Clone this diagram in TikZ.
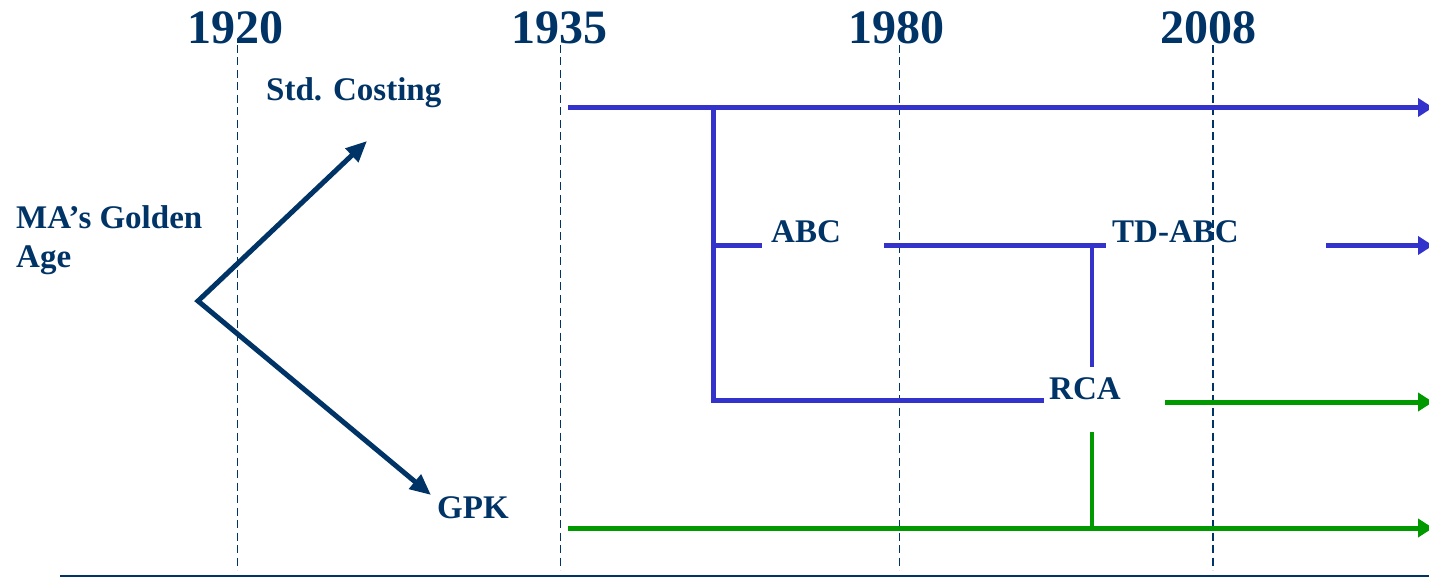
\documentclass[tikz,border=0pt]{standalone}
\usepackage{fontspec}
\setmainfont{Liberation Serif}
\usetikzlibrary{arrows.meta}
\definecolor{navy}{RGB}{0,51,102}
\definecolor{lineblue}{RGB}{51,51,204}
\definecolor{linegreen}{RGB}{0,153,0}
\begin{document}
\begin{tikzpicture}[x=1pt,y=-1pt,
  year/.style={text=navy,font=\bfseries\fontsize{48}{48}\selectfont,inner sep=0pt,anchor=base},
  lbl/.style={text=navy,font=\bfseries\fontsize{33}{39}\selectfont,inner sep=0pt,anchor=base west},
  guide/.style={draw=navy,line width=1.8pt,dash pattern=on 8pt off 4.5pt},
  navyarrow/.style={draw=navy,line width=5pt,line join=miter,{Triangle[length=21pt,width=18pt]}-{Triangle[length=21pt,width=18pt]}},
  blueline/.style={draw=lineblue,line width=5pt},
  greenline/.style={draw=linegreen,line width=5pt},
  endtip/.style={-{Triangle[length=15pt,width=18pt]}}
]
\useasboundingbox (0,0) rectangle (1429,577);

% year labels
\node[year] (y1920) at (235.5,44) {1920};
\node[year] (y1935) at (559,44) {1935};
\node[year] (y1980) at (896,44) {1980};
\node[year] (y2008) at (1208.5,44) {2008};

% dashed guides
\coordinate (g1920) at (237.5,570);
\coordinate (g1935) at (560.5,570);
\coordinate (g1980) at (899.5,570);
\coordinate (g2008) at (1213,570);
\draw[guide] (237.5,45) -- (g1920);
\draw[guide] (560.5,45) -- (g1935);
\draw[guide] (899.5,45) -- (g1980);
\draw[guide] (1213,45) -- (g2008);

% bottom rule
\coordinate (ruleL) at (60,575.8);
\coordinate (ruleR) at (1429,575.8);
\draw[navy,line width=2.5pt] (ruleL) -- (ruleR);

% left labels
\node[text=navy,font=\bfseries\fontsize{33}{39}\selectfont,inner sep=0pt,align=left,anchor=north west] (golden) at (16,205.7) {MA’s Golden\\Age};
\node[lbl] (std) at (266,101) {Std. Costing};
\node[lbl] (gpk) at (437,518) {GPK};

% golden-age arrows
\coordinate (stdtip) at (367,141);
\coordinate (vtx) at (198,301);
\coordinate (gpktip) at (431,495);
\draw[navyarrow] (stdtip) -- (vtx) -- (gpktip);

% right labels
\node[lbl] (abc) at (771,243) {ABC};
\node[lbl] (tdabc) at (1112,243) {TD-ABC};
\node[lbl] (rca) at (1049,399) {RCA};

% blue structure
\coordinate (topL) at (568,107.5);
\coordinate (topR) at (1433,107.5);
\coordinate (j1) at (713,107.5);
\coordinate (j2) at (713,245.5);
\coordinate (j3) at (713,400);
\coordinate (rcaL) at (1044,400);
\coordinate (abcS) at (762,245.5);
\coordinate (abcR) at (884,245.5);
\coordinate (tdL) at (1106,245.5);
\coordinate (k1) at (1092,245.5);
\coordinate (k2) at (1092,367);
\coordinate (tdR) at (1326,245.5);
\coordinate (tdE) at (1433,245.5);

\draw[blueline,endtip] (topL) -- (topR);
\draw[blueline] (j1) -- (j3) -- (rcaL);
\draw[blueline] (j2) -- (abcS);
\draw[blueline] (abcR) -- (tdL);
\draw[blueline,line width=4pt] (k1) -- (k2);
\draw[blueline,endtip] (tdR) -- (tdE);

% green structure
\coordinate (rcaR) at (1165,402);
\coordinate (rcaE) at (1433,402);
\coordinate (m1) at (1092,432);
\coordinate (m2) at (1092,528);
\coordinate (gL) at (568,528);
\coordinate (gR) at (1433,528);
\draw[greenline,endtip] (rcaR) -- (rcaE);
\draw[greenline,line width=4pt] (m1) -- (m2);
\draw[greenline,endtip] (gL) -- (gR);
\end{tikzpicture}
\end{document}
